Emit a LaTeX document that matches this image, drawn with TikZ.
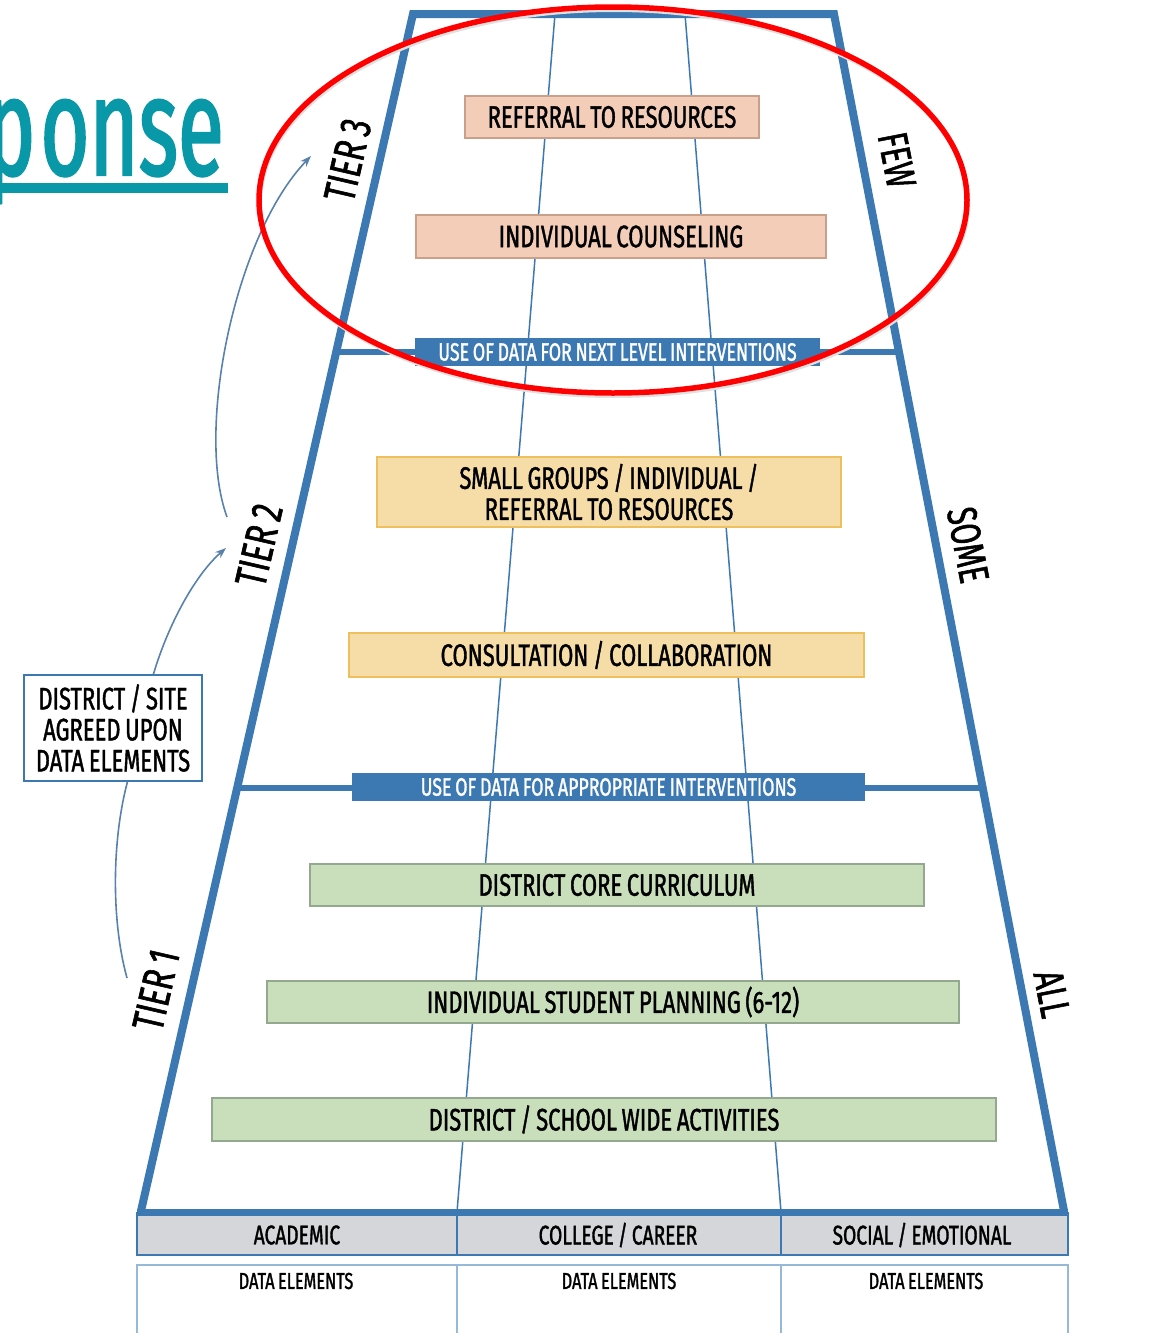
\documentclass[tikz,border=0pt]{standalone}
\usepackage{fontspec}
\setmainfont{Fira Sans}[FakeStretch=0.71, FakeBold=1.3, WordSpace=0.8]
\newfontfamily\titlefont{Fira Sans}[FakeStretch=0.6, FakeBold=1.5]
\usetikzlibrary{arrows.meta,calc}
\definecolor{tblue}{RGB}{60,120,178}
\definecolor{arrblue}{RGB}{88,130,172}
\definecolor{lblue}{RGB}{150,185,215}
\definecolor{teal}{RGB}{8,152,168}
\definecolor{peachF}{RGB}{243,205,184}
\definecolor{peachD}{RGB}{200,160,140}
\definecolor{yelF}{RGB}{246,220,166}
\definecolor{yelD}{RGB}{238,192,92}
\definecolor{grnF}{RGB}{201,222,186}
\definecolor{grnD}{RGB}{147,168,142}
\definecolor{bandgray}{RGB}{212,214,217}
\tikzset{
  boxtxt/.style={font=\fontsize{31}{30}\selectfont, text=black, inner sep=0pt, align=center},
  peachbox/.style={boxtxt, fill=peachF, draw=peachD, line width=1.5pt},
  yelbox/.style={boxtxt, fill=yelF, draw=yelD, line width=1.5pt},
  grnbox/.style={boxtxt, fill=grnF, draw=grnD, line width=1.5pt},
  band/.style={fill=tblue, text=white, inner sep=0pt, font=\fontsize{25}{25}\selectfont},
  tierlbl/.style={font=\fontsize{44}{44}\selectfont, inner sep=0pt, rotate=77},
  sidelbl/.style={font=\fontsize{42}{42}\selectfont, inner sep=0pt, rotate=-79},
  hdr/.style={font=\fontsize{27}{27}\selectfont, inner sep=0pt},
  dat/.style={font=\fontsize{23}{23}\selectfont, inner sep=0pt},
  conn/.style={draw=arrblue, line width=1.6pt},
  tip/.style={-{Stealth[length=11pt,width=8pt]}}
}
\begin{document}
\begin{tikzpicture}[x=1pt,y=-1pt]
\useasboundingbox (0,0) rectangle (1173,1333);
\clip (0,0) rectangle (1173,1333);
\fill[white] (0,0) rectangle (1173,1333);

% title fragment
\node[anchor=base east, text=teal, inner sep=0pt, font=\titlefont\fontsize{140}{140}\selectfont] (title) at (224,175) {p\kern5pt onse};
\fill[teal] (0,183) rectangle (228,193);

% corners of the trapezoid
\coordinate (TL) at (413,14);
\coordinate (TR) at (834,14);
\coordinate (BR) at (1064,1211);
\coordinate (BL) at (141,1211);

% column guide lines
\coordinate (c1t) at (555,14);
\coordinate (c1b) at (457,1212);
\coordinate (c2t) at (685,14);
\coordinate (c2b) at (781,1212);
\draw[tblue, line width=1.5pt] (c1t) -- (c1b);
\draw[tblue, line width=1.5pt] (c2t) -- (c2b);

% outline
\draw[tblue, line width=8pt, line join=miter] (BL) -- (TL) -- (TR) -- (BR);

% tier dividers
\draw[tblue, line width=6pt] ($(TL)!0.2826!(BL)$) -- ($(TR)!0.2826!(BR)$);
\draw[tblue, line width=6pt] ($(TL)!0.6463!(BL)$) -- ($(TR)!0.6463!(BR)$);
\node[band, minimum width=405pt, minimum height=28pt] (d1) at (617.5,352) {USE OF DATA FOR NEXT LEVEL INTERVENTIONS};
\node[band, minimum width=513pt, minimum height=28pt] (d2) at (608.5,787) {USE OF DATA FOR APPROPRIATE INTERVENTIONS};

% boxes
\node[peachbox, minimum width=294pt, minimum height=42pt] (r1) at (612,117) {REFERRAL TO RESOURCES};
\node[peachbox, minimum width=410pt, minimum height=43pt] (r2) at (621,236.5) {INDIVIDUAL COUNSELING};
\node[yelbox, minimum width=464pt, minimum height=70pt] (y1) at (609,492) {SMALL GROUPS / INDIVIDUAL /\\[1pt] REFERRAL TO RESOURCES};
\node[yelbox, minimum width=515pt, minimum height=44pt] (y2) at (606.5,655) {CONSULTATION / COLLABORATION};
\node[grnbox, minimum width=614pt, minimum height=42pt] (g1) at (617,885) {DISTRICT CORE CURRICULUM};
\node[grnbox, minimum width=692pt, minimum height=42pt] (g2) at (613,1002) {INDIVIDUAL STUDENT PLANNING (6-12)};
\node[grnbox, minimum width=784pt, minimum height=43pt] (g3) at (604,1119.5) {DISTRICT / SCHOOL WIDE ACTIVITIES};

% bottom header band
\draw[fill=bandgray, draw=tblue, line width=1.5pt] (137,1213) rectangle (1068,1255);
\draw[tblue, line width=7pt] (137,1212) -- (1068,1212);
\draw[tblue, line width=1.2pt] (457,1212) -- (457,1255);
\draw[tblue, line width=1.2pt] (781,1212) -- (781,1255);
\node[hdr] (h1) at (297,1235) {ACADEMIC};
\node[hdr] (h2) at (618,1235) {COLLEGE / CAREER};
\node[hdr] (h3) at (922,1235) {SOCIAL / EMOTIONAL};

% data elements row
\draw[lblue, line width=1.5pt] (137,1345) -- (137,1265) -- (1068,1265) -- (1068,1345);
\draw[lblue, line width=1.5pt] (457,1265) -- (457,1345);
\draw[lblue, line width=1.5pt] (781,1265) -- (781,1345);
\node[dat] (e1) at (296,1281) {DATA ELEMENTS};
\node[dat] (e2) at (619,1281) {DATA ELEMENTS};
\node[dat] (e3) at (926,1281) {DATA ELEMENTS};

% tier / side labels
\node[tierlbl] (t3) at (348,160) {TIER 3};
\node[tierlbl] (t2) at (259,545) {TIER 2};
\node[tierlbl] (t1) at (156,990) {TIER 1};
\node[sidelbl] (few) at (897,160) {FEW};
\node[sidelbl] (some) at (968,545) {SOME};
\node[sidelbl] (all) at (1052,994) {ALL};

% left box
\node[draw=tblue, line width=2pt, fill=white, minimum width=178pt, minimum height=106pt, inner sep=0pt, align=center, font=\fontsize{31}{31}\selectfont] (lbox) at (113,728) {DISTRICT / SITE\\AGREED UPON\\DATA ELEMENTS};

% connectors
\coordinate (a1s) at ($(lbox.north west)!0.725!(lbox.north east)$);
\coordinate (a1e) at (226,548);
\coordinate (a2s) at (227,517);
\coordinate (a2e) at (311,156);
\coordinate (a3s) at ($(lbox.south west)!0.58!(lbox.south east)$);
\coordinate (a3e) at (127,978);
\draw[conn, tip] (a1s) .. controls (168,625) and (195,575) .. (a1e);
\draw[conn, tip] (a2s) .. controls (195,430) and (235,235) .. (a2e);
\draw[conn] (a3s) .. controls (112,840) and (111,920) .. (a3e);

% red ellipse
\draw[black!12, line width=4pt] (614,203) ellipse [x radius=354, y radius=193];
\draw[red, line width=5.5pt] (613,200) ellipse [x radius=354, y radius=193];
\end{tikzpicture}
\end{document}
